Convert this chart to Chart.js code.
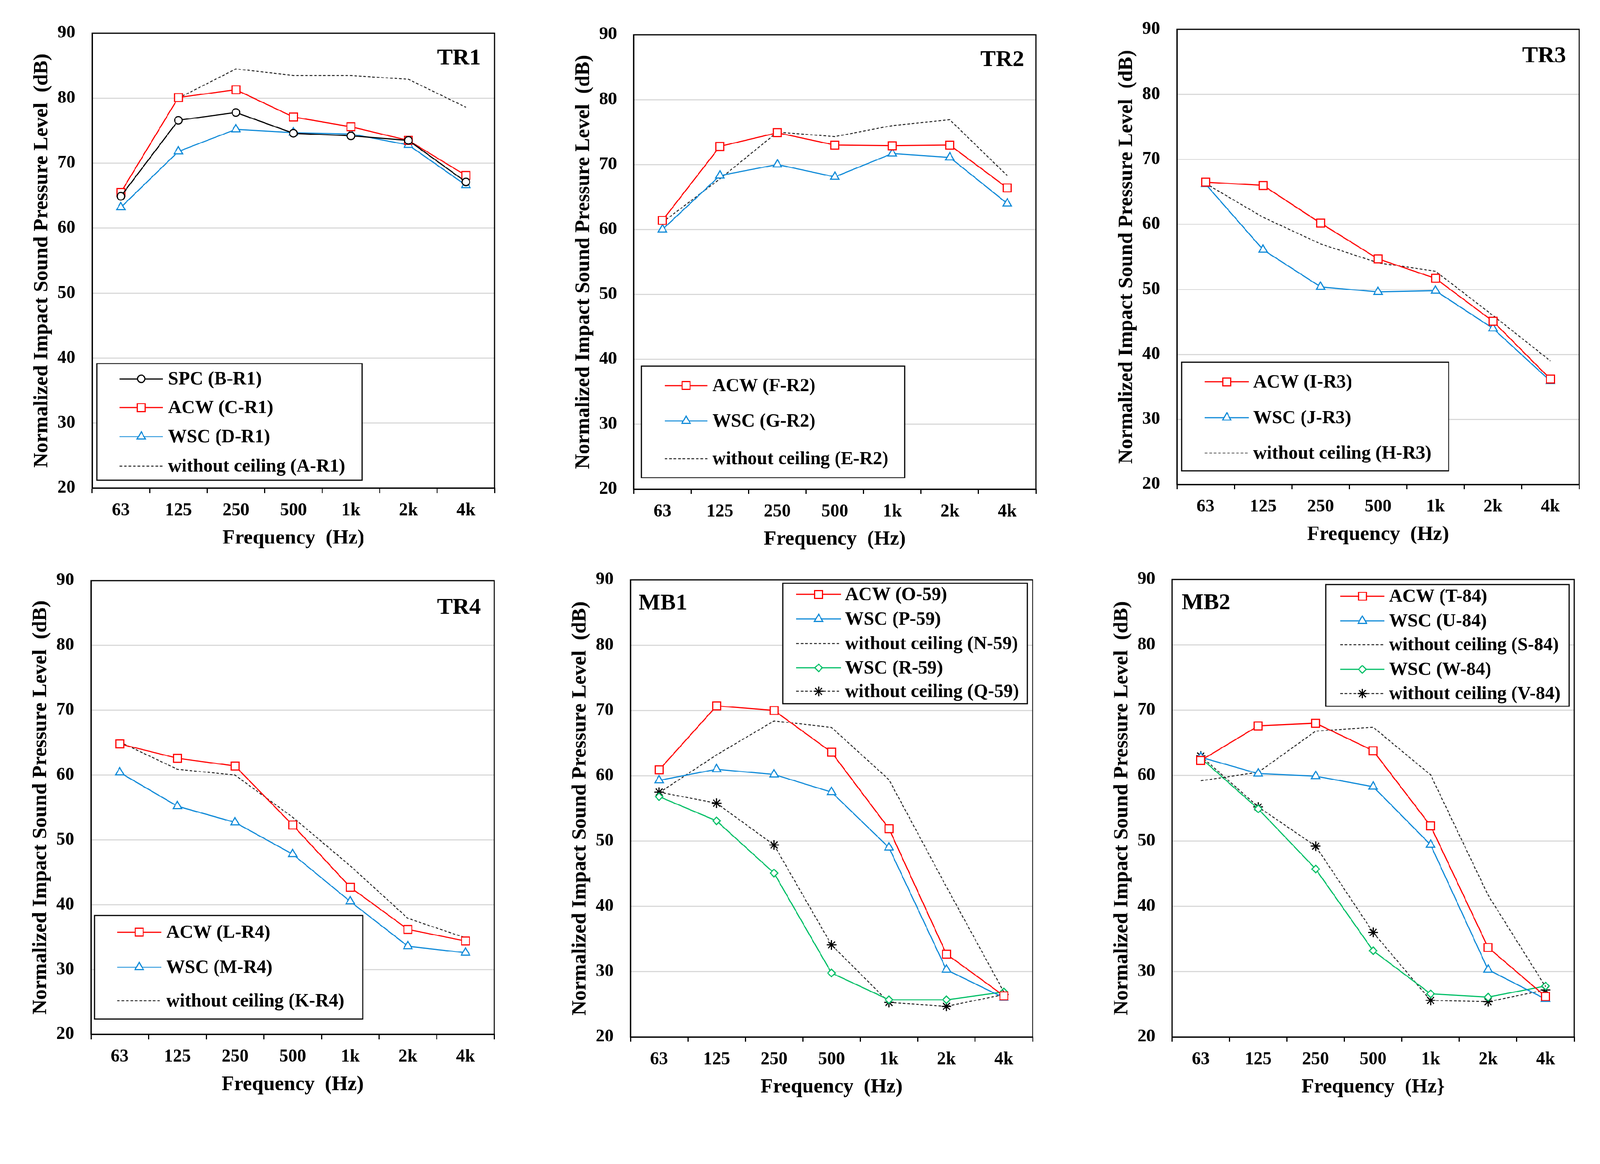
<!DOCTYPE html>
<html>
<head>
<meta charset="utf-8">
<script src="https://cdn.jsdelivr.net/npm/chart.js@4.4.1/dist/chart.umd.min.js"></script>
<style>
  html, body { margin: 0; padding: 0; background: #fff; overflow: hidden; }
  #page { width: 4292px; height: 2979px; position: absolute; left: 0; top: 0; transform-origin: 0 0; }
  canvas { position: absolute; }
</style>
</head>
<body>
<div id="page"></div>
<script>
// frequency bands (x axis) and y ticks
const freqLabels = ['63', '125', '250', '500', '1k', '2k', '4k']
const yMin = 20
const yMax = 90
const yStep = 10

// TR1
const tr1Spc = [64.9, 76.6, 77.8, 74.6, 74.2, 73.5, 67.1]
const tr1Acw = [65.5, 80.1, 81.3, 77.1, 75.6, 73.5, 68.1]
const tr1Wsc = [63.2, 71.8, 75.2, 74.7, 74.5, 72.8, 66.6]
const tr1Without = [null, 80.0, 84.5, 83.5, 83.5, 82.9, 78.6]

// TR2
const tr2Acw = [61.4, 72.8, 74.9, 73.0, 72.9, 73.0, 66.4]
const tr2Wsc = [60.0, 68.3, 70.0, 68.1, 71.7, 71.1, 64.0]
const tr2Without = [61.1, 67.8, 75.0, 74.3, 76.0, 76.9, 68.3]

// TR3
const tr3Acw = [66.5, 66.0, 60.2, 54.7, 51.7, 45.1, 36.2]
const tr3Wsc = [66.2, 56.1, 50.4, 49.6, 49.8, 44.0, 35.9]
const tr3Without = [66.3, 61.1, 57.0, 54.1, 52.8, 46.0, 39.0]

// TR4
const tr4Acw = [64.8, 62.6, 61.4, 52.3, 42.7, 36.2, 34.4]
const tr4Wsc = [60.4, 55.2, 52.7, 47.8, 40.5, 33.6, 32.6]
const tr4Without = [65.1, 60.9, 60.0, 53.5, 46.0, 37.9, 34.9]

// MB1
const mb1AcwO = [60.9, 70.7, 70.0, 63.6, 51.9, 32.7, 26.3]
const mb1WscP = [59.3, 61.0, 60.2, 57.5, 49.0, 30.3, 26.0]
const mb1WithoutN = [57.4, 63.2, 68.4, 67.4, 59.4, 43.0, 26.9]
const mb1WscR = [56.8, 53.1, 45.1, 29.8, 25.7, 25.7, 26.9]
const mb1WithoutQ = [57.5, 55.8, 49.4, 34.1, 25.3, 24.7, 26.5]

// MB2
const mb2AcwT = [62.3, 67.6, 68.0, 63.8, 52.3, 33.7, 26.2]
const mb2WscU = [62.8, 60.3, 59.9, 58.3, 49.4, 30.3, 25.8]
const mb2WithoutS = [59.2, 60.5, 66.8, 67.4, 60.1, 41.7, 27.7]
const mb2WscW = [62.7, 54.9, 45.7, 33.2, 26.6, 26.1, 27.8]
const mb2WithoutV = [63.0, 55.2, 49.2, 36.0, 25.6, 25.4, 27.2]

const FONT = "'Liberation Serif', 'Times New Roman', serif"
const yTitle = 'Normalized Impact Sound Pressure Level  (dB)'

// the picture is 4292 px wide; fit the page to whatever the window really is
const page = document.getElementById('page')
const fit = Math.min(window.innerWidth / 4292, window.innerHeight / 2979)
page.style.transform = 'scale(' + fit + ')'

// line looks
const RED = '#ff0000'
const BLUE = '#0f8ad8'
const GREEN = '#00bf66'
const looks = {
  spc: { borderColor: '#000', pointStyle: 'circle', pointRadius: 10 },
  acw: { borderColor: RED, pointStyle: 'rect', pointRadius: 15 },
  wsc: { borderColor: BLUE, pointStyle: 'triangle', pointRadius: 13 },
  wscGreen: { borderColor: GREEN, pointStyle: 'rectRot', pointRadius: 10 },
  without: { borderColor: '#222', borderDash: [7, 5], borderWidth: 2.5, pointRadius: 0 },
  withoutStar: { borderColor: '#222', borderDash: [7, 5], borderWidth: 2.5, pointStyle: 'star', pointRadius: 13 },
}

function series(label, data, look) {
  const l = looks[look]
  return {
    label: label,
    data: data,
    borderColor: l.borderColor,
    borderWidth: l.borderWidth || 3,
    borderDash: l.borderDash || [],
    pointStyle: l.pointStyle || 'circle',
    pointRadius: l.pointRadius,
    pointHoverRadius: l.pointRadius,
    pointBorderWidth: 3,
    pointBorderColor: l.pointStyle === 'star' ? '#000' : l.borderColor,
    pointBackgroundColor: '#fff',
    tension: 0,
    fill: false,
    spanGaps: false,
  }
}

// plot rectangles and legend boxes are in page pixels
const panels = [
  {
    name: 'TR1', nameAlign: 'right', nameX: 1290, nameY: 173,
    plot: [247, 89, 1327, 1309], xTitle: 'Frequency  (Hz)',
    legend: { box: [260, 975, 971, 1288], rows: [1016, 1093, 1171, 1250], line: [321, 437], text: 451 },
    datasets: [
      series('SPC (B-R1)', tr1Spc, 'spc'),
      series('ACW (C-R1)', tr1Acw, 'acw'),
      series('WSC (D-R1)', tr1Wsc, 'wsc'),
      series('without ceiling (A-R1)', tr1Without, 'without'),
    ],
  },
  {
    name: 'TR2', nameAlign: 'right', nameX: 2747, nameY: 177,
    plot: [1700, 93, 2779, 1312], xTitle: 'Frequency  (Hz)',
    legend: { box: [1721, 982, 2427, 1281], rows: [1034, 1129, 1230], line: [1783, 1898], text: 1911 },
    datasets: [
      series('ACW (F-R2)', tr2Acw, 'acw'),
      series('WSC (G-R2)', tr2Wsc, 'wsc'),
      series('without ceiling (E-R2)', tr2Without, 'without'),
    ],
  },
  {
    name: 'TR3', nameAlign: 'right', nameX: 4201, nameY: 167,
    plot: [3157, 79, 4236, 1299], xTitle: 'Frequency  (Hz)',
    legend: { box: [3170, 971, 3886, 1263], rows: [1024, 1120, 1215], line: [3232, 3350], text: 3362 },
    datasets: [
      series('ACW (I-R3)', tr3Acw, 'acw'),
      series('WSC (J-R3)', tr3Wsc, 'wsc'),
      series('without ceiling (H-R3)', tr3Without, 'without'),
    ],
  },
  {
    name: 'TR4', nameAlign: 'right', nameX: 1290, nameY: 1646,
    plot: [244, 1557, 1326, 2774], xTitle: 'Frequency  (Hz)',
    legend: { box: [254, 2455, 973, 2733], rows: [2500, 2594, 2684], line: [314, 433], text: 446 },
    datasets: [
      series('ACW (L-R4)', tr4Acw, 'acw'),
      series('WSC (M-R4)', tr4Wsc, 'wsc'),
      series('without ceiling (K-R4)', tr4Without, 'without'),
    ],
  },
  {
    name: 'MB1', nameAlign: 'left', nameX: 1713, nameY: 1635,
    plot: [1691, 1555, 2770, 2781], xTitle: 'Frequency  (Hz)',
    legend: { box: [2100, 1564, 2756, 1887], rows: [1594, 1660, 1726, 1791, 1854], line: [2136, 2256], text: 2267 },
    datasets: [
      series('ACW (O-59)', mb1AcwO, 'acw'),
      series('WSC (P-59)', mb1WscP, 'wsc'),
      series('without ceiling (N-59)', mb1WithoutN, 'without'),
      series('WSC (R-59)', mb1WscR, 'wscGreen'),
      series('without ceiling (Q-59)', mb1WithoutQ, 'withoutStar'),
    ],
  },
  {
    name: 'MB2', nameAlign: 'left', nameX: 3170, nameY: 1634,
    plot: [3144, 1554, 4223, 2781], xTitle: 'Frequency  (Hz}',
    legend: { box: [3556, 1568, 4209, 1894], rows: [1599, 1665, 1729, 1795, 1860], line: [3595, 3714], text: 3726 },
    datasets: [
      series('ACW (T-84)', mb2AcwT, 'acw'),
      series('WSC (U-84)', mb2WscU, 'wsc'),
      series('without ceiling (S-84)', mb2WithoutS, 'without'),
      series('WSC (W-84)', mb2WscW, 'wscGreen'),
      series('without ceiling (V-84)', mb2WithoutV, 'withoutStar'),
    ],
  },
]

const AXIS_W = 247   // room left of the plot for ticks + title
const AXIS_H = 190   // room below the plot
const PAD_TOP = 80
const PAD_RIGHT = 40

function makePanel(p) {
  const [L, T, R, B] = p.plot
  const left = L - AXIS_W
  const top = T - PAD_TOP
  const canvas = document.createElement('canvas')
  canvas.width = (R - L) + AXIS_W + PAD_RIGHT
  canvas.height = (B - T) + PAD_TOP + AXIS_H
  canvas.style.left = left + 'px'
  canvas.style.top = top + 'px'
  page.appendChild(canvas)

  const extras = {
    id: 'panelExtras',
    afterDraw(chart) {
      const ctx = chart.ctx
      const a = chart.chartArea
      ctx.save()
      // frame
      ctx.strokeStyle = '#000'
      ctx.lineWidth = 3
      ctx.setLineDash([])
      ctx.strokeRect(a.left, a.top, a.right - a.left, a.bottom - a.top)

      // panel name
      ctx.fillStyle = '#000'
      ctx.font = "bold 62px " + FONT
      ctx.textBaseline = 'alphabetic'
      ctx.textAlign = p.nameAlign
      ctx.fillText(p.name, p.nameX - left, p.nameY - top)

      // legend box
      const lg = p.legend
      ctx.fillStyle = '#fff'
      ctx.fillRect(lg.box[0] - left, lg.box[1] - top, lg.box[2] - lg.box[0], lg.box[3] - lg.box[1])
      ctx.strokeStyle = '#000'
      ctx.lineWidth = 3
      ctx.strokeRect(lg.box[0] - left, lg.box[1] - top, lg.box[2] - lg.box[0], lg.box[3] - lg.box[1])

      chart.data.datasets.forEach((ds, i) => {
        const y = lg.rows[i] - top
        const x0 = lg.line[0] - left
        const x1 = lg.line[1] - left
        ctx.beginPath()
        ctx.setLineDash(ds.borderDash)
        ctx.strokeStyle = ds.borderColor
        ctx.lineWidth = ds.borderWidth
        ctx.moveTo(x0, y)
        ctx.lineTo(x1, y)
        ctx.stroke()
        ctx.setLineDash([])
        if (ds.pointRadius > 0) {
          ctx.fillStyle = ds.pointBackgroundColor
          ctx.strokeStyle = ds.pointBorderColor
          ctx.lineWidth = ds.pointBorderWidth
          Chart.helpers.drawPoint(ctx, {
            pointStyle: ds.pointStyle, radius: ds.pointRadius,
            borderWidth: ds.pointBorderWidth, rotation: 0
          }, (x0 + x1) / 2, y)
        }
        ctx.fillStyle = '#000'
        ctx.font = "bold 50px " + FONT
        ctx.textAlign = 'left'
        ctx.textBaseline = 'middle'
        ctx.fillText(ds.label, lg.text - left, y + 2)
      })
      ctx.restore()
    }
  }

  new Chart(canvas, {
    type: 'line',
    data: { labels: freqLabels, datasets: p.datasets },
    options: {
      responsive: false,
      animation: false,
      layout: { padding: { left: 0, top: PAD_TOP, right: PAD_RIGHT, bottom: 0 } },
      plugins: { legend: { display: false }, tooltip: { enabled: false } },
      scales: {
        x: {
          offset: true,
          grid: { offset: true, drawOnChartArea: false, drawTicks: true, tickLength: 13, color: '#000', lineWidth: 3 },
          border: { display: true, color: '#000', width: 3 },
          ticks: { font: { family: FONT, size: 48, weight: 'bold' }, color: '#000', padding: 19, maxRotation: 0, autoSkip: false },
          title: { display: true, text: p.xTitle, color: '#000', font: { family: FONT, size: 55, weight: 'bold' }, padding: { top: 0, bottom: 22 } },
          afterFit(s) { s.height = AXIS_H },
        },
        y: {
          min: yMin,
          max: yMax,
          ticks: { stepSize: yStep, font: { family: FONT, size: 48, weight: 'bold' }, color: '#000', padding: 45 },
          grid: { color: '#d9d9d9', lineWidth: 3, drawTicks: false },
          border: { display: true, color: '#000', width: 3 },
          title: { display: true, text: yTitle, color: '#000', font: { family: FONT, size: 55, weight: 'bold' }, padding: { top: 80, bottom: 0 } },
          afterFit(s) { s.width = AXIS_W },
        },
      },
    },
    plugins: [extras],
  })
}

panels.forEach(makePanel)
</script>
</body>
</html>
